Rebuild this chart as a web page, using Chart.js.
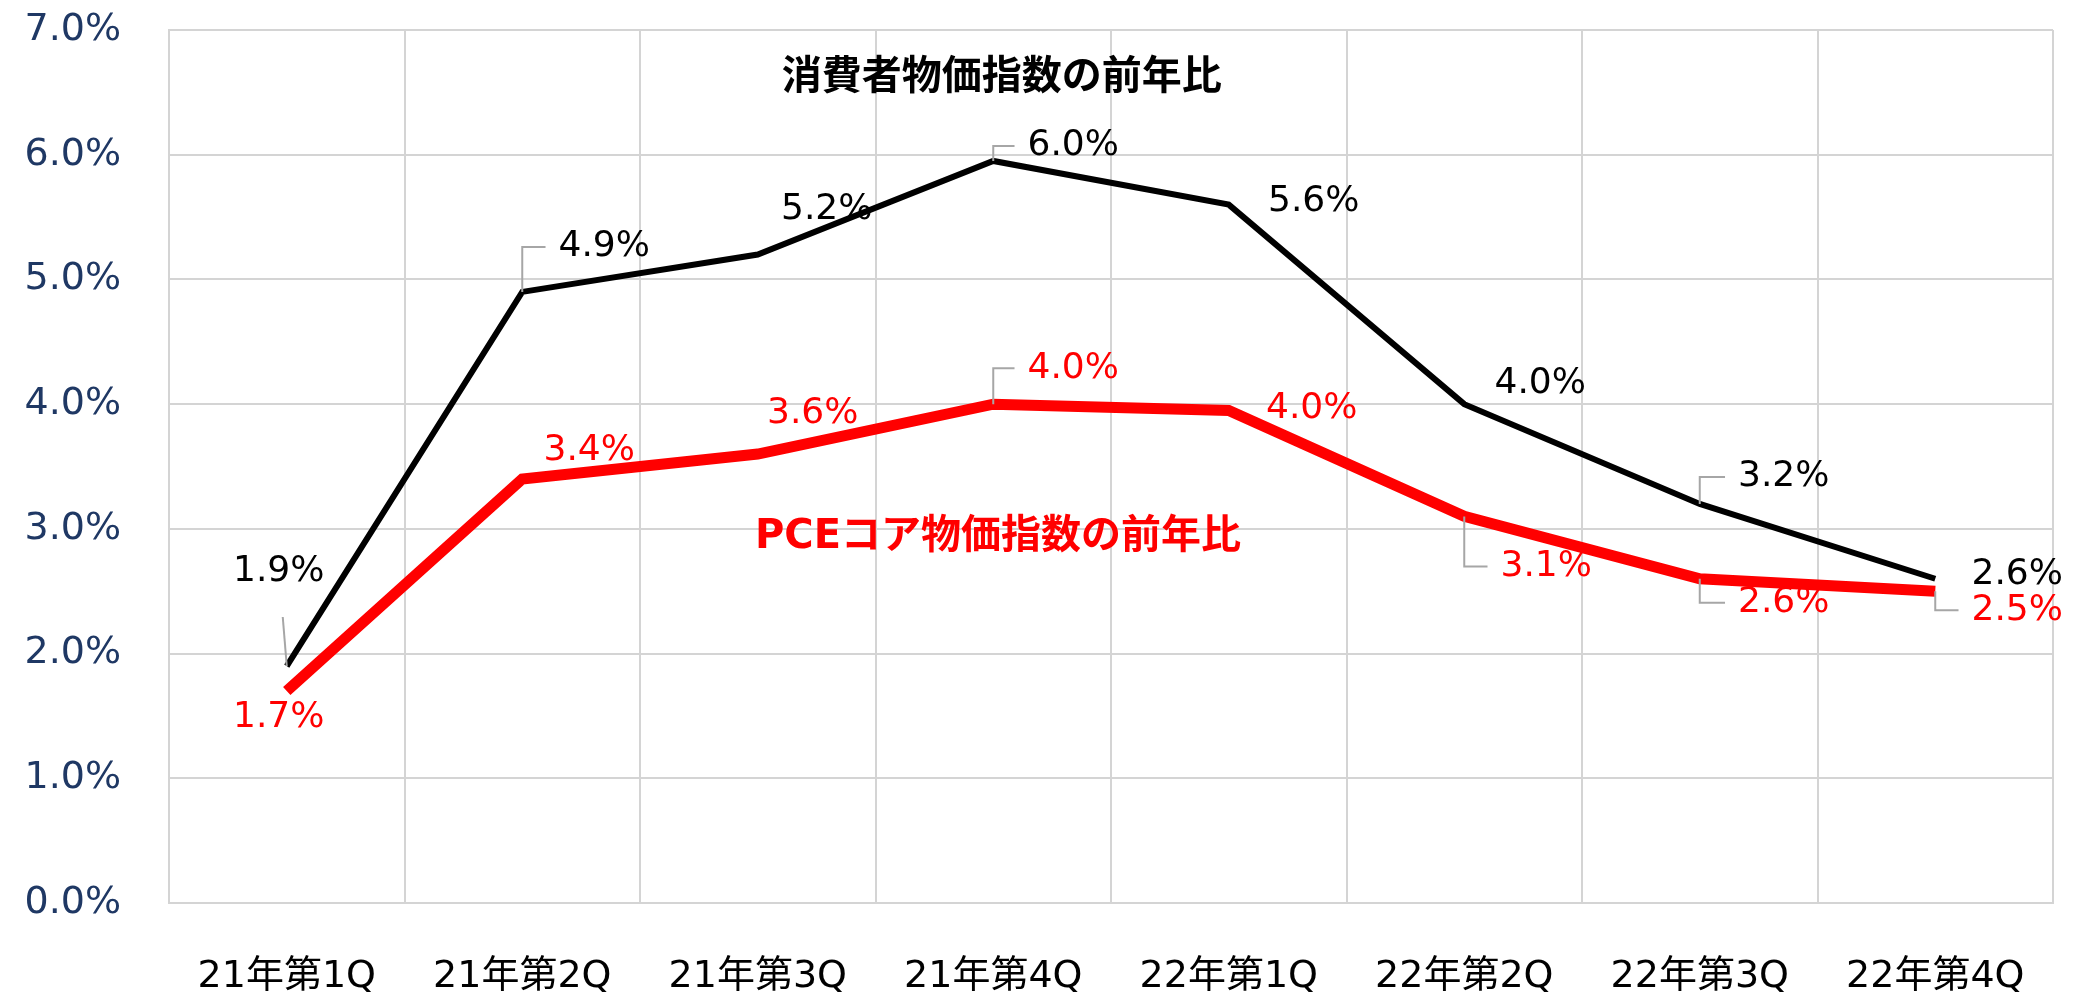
<!DOCTYPE html>
<html>
<head>
<meta charset="utf-8">
<script src="https://cdn.jsdelivr.net/npm/chart.js@4/dist/chart.umd.min.js"></script>
<style>
  html, body { margin: 0; padding: 0; background: #fff; }
  #wrap { width: 2073px; height: 994px; }
</style>
</head>
<body>
<div id="wrap"><canvas id="inflationChart" width="2073" height="994"></canvas></div>
<script>
// quarters on the x axis
const quarters = ['21年第1Q', '21年第2Q', '21年第3Q', '21年第4Q', '22年第1Q', '22年第2Q', '22年第3Q', '22年第4Q'];

// year-on-year, %
const cpiYoY = [1.9, 4.9, 5.2, 5.95, 5.6, 4.0, 3.2, 2.6];
const pceCoreYoY = [1.7, 3.4, 3.6, 4.0, 3.95, 3.1, 2.6, 2.5];

// y axis ticks
const yTicks = [0, 1, 2, 3, 4, 5, 6, 7];

const cpiName = '消費者物価指数の前年比';
const pceName = 'PCEコア物価指数の前年比';

// where each value label sits, relative to its point
const cpiLabelOffsets = [[-8, -94], [82, -45], [69, -45], [80, -15], [85, -3], [76, -21], [84, -27], [82, -4]];
const pceLabelOffsets = [[-8, 27], [67, -28], [55, -40], [80, -36], [83, -2], [82, 50], [84, 24], [82, 19]];
const cpiLeaders = ['straight', 'elbow', null, 'elbow', null, null, 'elbow', null];
const pceLeaders = [null, null, null, 'elbow', null, 'elbow', 'elbow', 'elbow'];

const NUM_FONT = "'DejaVu Sans', 'Noto Sans CJK JP', sans-serif";

const valueLabels = {
    id: 'valueLabels',
    afterDatasetsDraw(chart) {
        const ctx = chart.ctx;
        const sets = [
            { idx: 0, offsets: cpiLabelOffsets, leaders: cpiLeaders, color: '#000000' },
            { idx: 1, offsets: pceLabelOffsets, leaders: pceLeaders, color: '#ff0000' }
        ];
        ctx.save();
        ctx.font = '36px ' + NUM_FONT;
        ctx.textAlign = 'center';
        ctx.textBaseline = 'middle';
        sets.forEach(s => {
            const meta = chart.getDatasetMeta(s.idx);
            const values = chart.data.datasets[s.idx].data;
            meta.data.forEach((pt, i) => {
                const text = (Math.round(values[i] * 10) / 10).toFixed(1) + '%';
                const lx = pt.x + s.offsets[i][0];
                const ly = pt.y + s.offsets[i][1];
                const w = ctx.measureText(text).width;
                // leader lines
                ctx.strokeStyle = '#a6a6a6';
                ctx.lineWidth = 2;
                if (s.leaders[i] === 'elbow') {
                    ctx.beginPath();
                    ctx.moveTo(pt.x, pt.y);
                    ctx.lineTo(pt.x, ly);
                    ctx.lineTo(lx - w / 2 - 13, ly);
                    ctx.stroke();
                } else if (s.leaders[i] === 'straight') {
                    ctx.beginPath();
                    ctx.moveTo(pt.x - 4, pt.y - 49);
                    ctx.lineTo(pt.x, pt.y);
                    ctx.stroke();
                }
                ctx.fillStyle = s.color;
                ctx.fillText(text, lx, ly);
            });
        });
        ctx.restore();
    }
};

const seriesTitles = {
    id: 'seriesTitles',
    afterDatasetsDraw(chart) {
        const { ctx, chartArea } = chart;
        const w = chartArea.right - chartArea.left;
        const h = chartArea.bottom - chartArea.top;
        ctx.save();
        ctx.font = 'bold 40px ' + NUM_FONT;
        ctx.textAlign = 'center';
        ctx.textBaseline = 'middle';
        ctx.fillStyle = '#000000';
        ctx.fillText(cpiName, chartArea.left + w * 0.442, chartArea.top + h * 0.056);
        ctx.fillStyle = '#ff0000';
        ctx.fillText(pceName, chartArea.left + w * 0.44, chartArea.top + h * 0.582);
        ctx.restore();
    }
};

new Chart(document.getElementById('inflationChart'), {
    type: 'line',
    data: {
        labels: quarters,
        datasets: [{
            label: cpiName,
            data: cpiYoY,
            borderColor: '#000000',
            borderWidth: 6,
            pointRadius: 0,
            tension: 0,
            fill: false
        }, {
            label: pceName,
            data: pceCoreYoY,
            borderColor: '#ff0000',
            borderWidth: 11,
            pointRadius: 0,
            tension: 0,
            fill: false
        }]
    },
    options: {
        responsive: false,
        animation: false,
        devicePixelRatio: 1,
        layout: { padding: { top: 30, right: 20, left: 0, bottom: 0 } },
        plugins: {
            legend: { display: false },
            tooltip: { enabled: false },
            title: { display: false }
        },
        scales: {
            x: {
                offset: true,
                grid: { offset: true, color: '#d4d4d4', lineWidth: 2, drawTicks: false },
                border: { color: '#d4d4d4', width: 2 },
                ticks: {
                    color: '#000000',
                    padding: 51,
                    maxRotation: 0,
                    autoSkip: false,
                    font: { family: NUM_FONT, size: 38 }
                },
                afterFit(scale) {
                    scale.height = 91;
                    scale.paddingLeft = 0;
                    scale.paddingRight = 0;
                }
            },
            y: {
                min: 0,
                max: 7,
                grid: { color: '#d4d4d4', lineWidth: 2, drawTicks: false },
                border: { color: '#d4d4d4', width: 2 },
                afterBuildTicks(scale) { scale.ticks = yTicks.map(v => ({ value: v })); },
                ticks: {
                    color: '#1f3864',
                    padding: 48,
                    font: { family: NUM_FONT, size: 38 },
                    callback: v => v.toFixed(1) + '%'
                },
                afterFit(scale) {
                    scale.width = 169;
                    scale.paddingTop = 0;
                    scale.paddingBottom = 0;
                }
            }
        }
    },
    plugins: [valueLabels, seriesTitles]
});
</script>
</body>
</html>
